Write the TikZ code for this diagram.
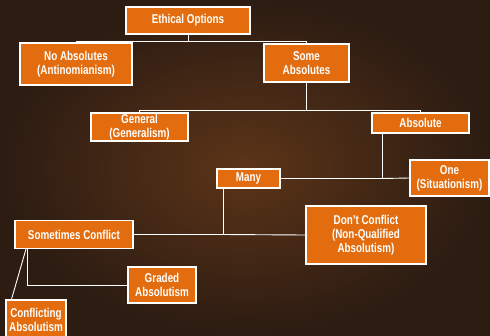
\documentclass[tikz,border=0pt]{standalone}
\usepackage{fontspec}
\setmainfont{Liberation Sans}[FakeStretch=0.77]
\usetikzlibrary{calc}

\definecolor{bgin}{RGB}{92,52,24}
\definecolor{bgout}{RGB}{44,28,18}
\definecolor{optorange}{RGB}{226,108,14}

\begin{document}
\begin{tikzpicture} [x=1pt, y=-1pt,
  opt/.style={draw=white, line width=1.1pt, fill=optorange, text=white, align=center,
    inner sep=0, font=\bfseries\fontsize{12.8}{14}\selectfont},
  link/.style={white, line width=0.9pt}]
\useasboundingbox (0,0) rectangle (490,335);
\clip (0,0) rectangle (490,335);
\shade[inner color=bgin, outer color=bgout] (0,0) rectangle (490,335);

\node[opt, minimum width=124, minimum height=27] (eth) at (188,20.5) {Ethical Options};
\node[opt, minimum width=112, minimum height=42] (noabs) at (76,64) {No Absolutes\\(Antinomianism)};
\node[opt, minimum width=85, minimum height=38] (some) at (306.5,63) {Some\\Absolutes};
\node[opt, minimum width=97, minimum height=28] (gen) at (139.5,127) {General\\(Generalism)};
\node[opt, minimum width=97, minimum height=20] (abs) at (420.5,123) {Absolute};
\node[opt, minimum width=79, minimum height=36] (one) at (449.5,178) {One\\(Situationism)};
\node[opt, minimum width=63, minimum height=19] (many) at (248.5,178.5) {Many};
\node[opt, minimum width=118, minimum height=28] (sometimes) at (74,234.5) {Sometimes Conflict};
\node[opt, minimum width=120, minimum height=58] (dont) at (366,235) {Don't Conflict\\(Non-Qualified\\Absolutism)};
\node[opt, minimum width=68, minimum height=36] (graded) at (162,285) {Graded\\Absolutism};
\node[opt, minimum width=60, minimum height=40] (confl) at (36,320) {Conflicting\\Absolutism};

\coordinate (j1) at (382,178.5);
\coordinate (j2) at (223,234.5);
\coordinate (j3) at (27,285);

\draw[link] (eth.south) --++(0,7) -| (noabs.north);
\draw[link] (eth.south) --++(0,7) -| (some.north);
\draw[link] (some.south) --++(0,28) -| (gen.north);
\draw[link] (some.south) --++(0,28) -| (abs.north);
\draw[link] (abs.south -| j1) -- (j1);
\draw[link] (many.east) -- (j1) -- (one.west);
\draw[link] (many.south -| j2) -- (j2);
\draw[link] (sometimes.east) -- (j2) -- (dont.west);
\draw[link] (sometimes.south -| j3) -- (j3) -- (graded.west);
\draw[link] ($(sometimes.south -| j3)+(-1,0)$) -- ([xshift=6]confl.north west);
\end{tikzpicture}
\end{document}
